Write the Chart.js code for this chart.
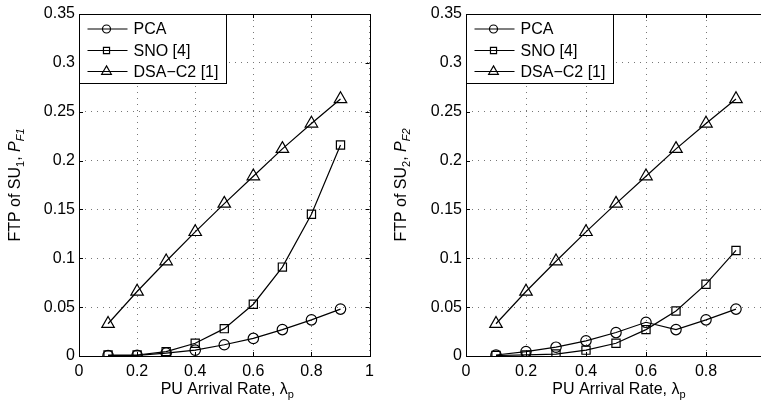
<!DOCTYPE html>
<html>
<head>
<meta charset="utf-8">
<script src="https://cdn.jsdelivr.net/npm/chart.js@4.4.0/dist/chart.umd.min.js"></script>
<style>
  html, body { margin: 0; padding: 0; background: #fff; overflow: hidden; }
  body { width: 761px; height: 406px; position: relative; }
  .box { position: absolute; top: 0; height: 406px; }
  #leftBox { left: 0; width: 380px; }
  #rightBox { left: 380px; width: 400px; }
</style>
</head>
<body>
<div class="box" id="leftBox"><canvas id="left"></canvas></div>
<div class="box" id="rightBox"><canvas id="right"></canvas></div>
<script>
// data ------------------------------------------------------------------
const xRate = [0.1, 0.2, 0.3, 0.4, 0.5, 0.6, 0.7, 0.8, 0.9];

const pcaSU1 = [0.0005, 0.0007, 0.003, 0.006, 0.0115, 0.018, 0.027, 0.037, 0.048];
const snoSU1 = [0.001, 0.001, 0.0045, 0.013, 0.028, 0.053, 0.091, 0.145, 0.216];
const dsaSU1 = [0.033, 0.066, 0.097, 0.127, 0.156, 0.184, 0.212, 0.238, 0.263];

const pcaSU2 = [0.001, 0.0045, 0.009, 0.0155, 0.024, 0.0345, 0.027, 0.037, 0.048];
const snoSU2 = [0.0005, 0.0012, 0.002, 0.006, 0.013, 0.027, 0.046, 0.0735, 0.108];
const dsaSU2 = [0.033, 0.066, 0.097, 0.127, 0.156, 0.184, 0.212, 0.238, 0.263];

const seriesNames = ["PCA", "SNO [4]", "DSA\u2212C2 [1]"];
const xTickLabels = ["0", "0.2", "0.4", "0.6", "0.8", "1"];
const yTickLabels = ["0", "0.05", "0.1", "0.15", "0.2", "0.25", "0.3", "0.35"];

// look ------------------------------------------------------------------
const FONT = "'Liberation Sans', Arial, Helvetica, sans-serif";
const FS = 16;
const markers = [
  { style: "circle", radius: 5.2, legend: 4 },
  { style: "rect", radius: 5.8, legend: 4.3 },
  { style: "triangle", radius: 7.2, legend: 5.6 },
];

function pts(ys) {
  return ys.map((y, i) => ({ x: xRate[i], y: y }));
}

// draws a string made of pieces (normal / italic / subscript)
function richText(ctx, parts, cx, cy, rotate) {
  const small = 11;
  let total = 0;
  parts.forEach((p) => {
    ctx.font = (p.it ? "italic " : "") + (p.sub ? small : FS) + "px " + FONT;
    p.w = ctx.measureText(p.t).width;
    total += p.w;
  });
  ctx.save();
  ctx.translate(cx, cy);
  if (rotate) ctx.rotate(-Math.PI / 2);
  ctx.fillStyle = "#000";
  ctx.textBaseline = "alphabetic";
  ctx.textAlign = "left";
  let x = -total / 2;
  parts.forEach((p) => {
    ctx.font = (p.it ? "italic " : "") + (p.sub ? small : FS) + "px " + FONT;
    ctx.fillText(p.t, x, p.sub ? 4 : 0);
    x += p.w;
  });
  ctx.restore();
}

// box, inward ticks, legend, axis titles
const decor = {
  id: "decor",
  afterDraw(chart, args, opts) {
    const ctx = chart.ctx;
    const a = chart.chartArea;
    const xs = chart.scales.x, ys = chart.scales.y;
    ctx.save();
    ctx.strokeStyle = "#000";
    ctx.lineWidth = 1;
    ctx.strokeRect(Math.round(a.left) + 0.5, Math.round(a.top) + 0.5,
      Math.round(a.right - a.left), Math.round(a.bottom - a.top));
    ctx.beginPath();
    xs.ticks.forEach((t) => {
      const px = Math.round(xs.getPixelForValue(t.value)) + 0.5;
      ctx.moveTo(px, a.bottom); ctx.lineTo(px, a.bottom - 4);
      ctx.moveTo(px, a.top); ctx.lineTo(px, a.top + 4);
    });
    ys.ticks.forEach((t) => {
      const py = Math.round(ys.getPixelForValue(t.value)) + 0.5;
      ctx.moveTo(a.left, py); ctx.lineTo(a.left + 4, py);
      ctx.moveTo(a.right, py); ctx.lineTo(a.right - 4, py);
    });
    ctx.stroke();

    // legend
    const lx = Math.round(a.left) + 0.5, ly = Math.round(a.top) + 0.5;
    ctx.fillStyle = "#fff";
    ctx.fillRect(lx, ly, 147, 69);
    ctx.strokeRect(lx, ly, 147, 69);
    const rows = [14.5, 36, 57];
    chart.data.datasets.forEach((ds, i) => {
      const y = ly + rows[i];
      ctx.strokeStyle = "#000";
      ctx.lineWidth = 1.2;
      ctx.beginPath();
      ctx.moveTo(lx + 8, y); ctx.lineTo(lx + 48, y);
      ctx.stroke();
      ctx.fillStyle = "rgba(0,0,0,0)";
      Chart.helpers.drawPoint(ctx, {
        pointStyle: markers[i].style, radius: markers[i].legend,
        rotation: 0, borderWidth: 1.2,
      }, lx + 27, y);
      ctx.fillStyle = "#000";
      ctx.font = FS + "px " + FONT;
      ctx.textBaseline = "middle";
      ctx.textAlign = "left";
      ctx.fillText(ds.label, lx + 54, y + 1);
    });
    ctx.restore();

    richText(ctx, opts.yTitle, opts.yTitleX, (a.top + a.bottom) / 2, true);
    richText(ctx, [{ t: "PU Arrival Rate, " }, { t: "\u03bb" }, { t: "p", sub: true }],
      (a.left + a.right) / 2 + 3, 394, false);
  },
};

function makeChart(id, series, yTitle, yTitleX, yWidth, padRight) {
  return new Chart(document.getElementById(id), {
    type: "line",
    data: {
      datasets: series.map((ys, i) => ({
        label: seriesNames[i],
        data: pts(ys),
        borderColor: "#000",
        borderWidth: 1.2,
        pointStyle: markers[i].style,
        pointRadius: markers[i].radius,
        pointBorderColor: "#000",
        pointBackgroundColor: "rgba(0,0,0,0)",
        pointBorderWidth: 1.2,
        tension: 0,
        fill: false,
      })),
    },
    options: {
      responsive: true,
      maintainAspectRatio: false,
      animation: false,
      layout: { padding: { top: 14, right: padRight, left: 0, bottom: 0 } },
      plugins: {
        legend: { display: false },
        tooltip: { enabled: false },
        decor: { yTitle: yTitle, yTitleX: yTitleX },
      },
      scales: {
        x: {
          type: "linear",
          min: 0, max: 1,
          afterFit: (s) => { s.height = 50; },
          afterBuildTicks: (s) => {
            s.ticks = xTickLabels.map((l) => ({ value: parseFloat(l) }));
          },
          ticks: {
            color: "#000",
            padding: 6,
            maxRotation: 0,
            font: { family: FONT, size: FS },
            callback: (v, i) => xTickLabels[i],
          },
          grid: { color: "#777", drawTicks: false },
          border: { display: false, dash: [1, 5] },
        },
        y: {
          min: 0, max: 0.35,
          afterFit: (s) => { s.width = yWidth; },
          afterBuildTicks: (s) => {
            s.ticks = yTickLabels.map((l) => ({ value: parseFloat(l) }));
          },
          ticks: {
            color: "#000",
            padding: 4,
            font: { family: FONT, size: FS },
            callback: (v, i) => yTickLabels[i],
          },
          grid: { color: "#777", drawTicks: false },
          border: { display: false, dash: [1, 5] },
        },
      },
    },
    plugins: [decor],
  });
}

makeChart("left", [pcaSU1, snoSU1, dsaSU1],
  [{ t: "FTP of SU" }, { t: "1", sub: true }, { t: ", " }, { t: "P", it: true }, { t: "F1", it: true, sub: true }],
  20, 79, 2);

makeChart("right", [pcaSU2, snoSU2, dsaSU2],
  [{ t: "FTP of SU" }, { t: "2", sub: true }, { t: ", " }, { t: "P", it: true }, { t: "F2", it: true, sub: true }],
  26, 86, 14);
</script>
</body>
</html>
